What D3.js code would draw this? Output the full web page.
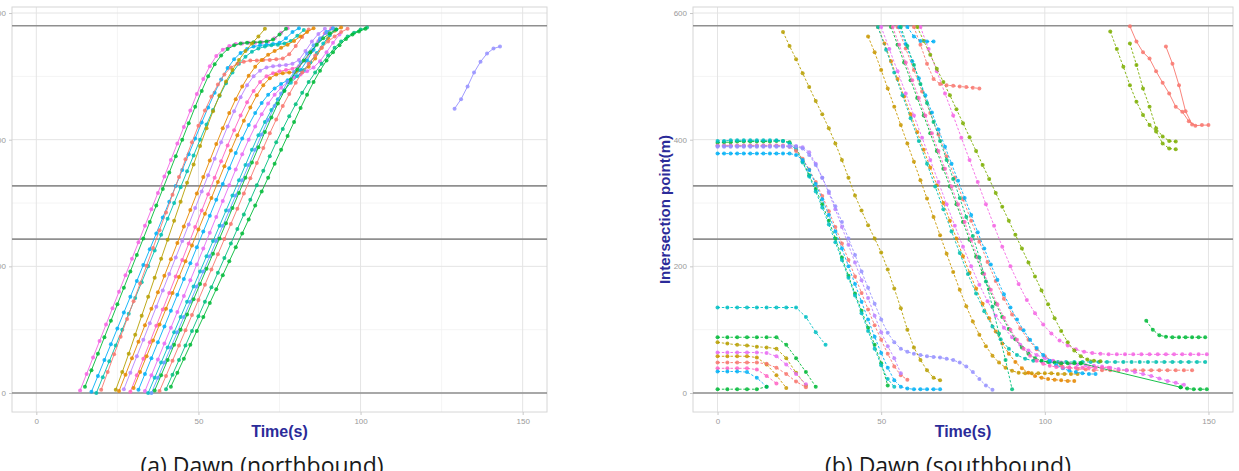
<!DOCTYPE html>
<html lang="en">
<head>
  <meta charset="UTF-8">
  <title>Dawn trajectories</title>
  <style>
    body { margin: 0; background: #fff; }
    svg { display: block; }
  </style>
</head>
<body>
  <div id="container"></div>
  <script src="https://cdn.jsdelivr.net/npm/d3@7"></script>
  <script>
    const xTicks = [0, 50, 100, 150];
    const xMinor = [25, 75, 125];
    const yTicks = [0, 200, 400, 600];
    const yMinor = [100, 300, 500];
    const stopLines = [0, 243, 327, 580];
    const captions = ['(a) Dawn (northbound)', '(b) Dawn (southbound)'];

    // northbound: start time (s), one sample every 2 s
    const nbStart = [13.5, 15, 17, 18.5, 20, 24.5, 25.5, 27, 29, 30, 31.5, 33.5, 34.5, 35.5, 36.5, 38, 40, 41.5, 129];
    const nbColor = ['#F564E3', '#00BA38', '#00B0F6', '#00C0AF', '#F8766D', '#B79F00', '#E58700', '#B983FF', '#FF61C3', '#E58700',
      '#00B0F6', '#E76BF3', '#00BFC4', '#619CFF', '#00BA38', '#F8766D', '#00BF7D', '#00BA38', '#9590FF'];
    const nbPos = [
      [4, 30, 56, 82, 108, 134, 160, 186, 212, 238, 264, 290, 316, 342, 368, 394, 420, 446, 472, 496, 516, 532, 542, 548, 551, 552, 553, 553, 554, 555, 560, 569, 576],
      [10, 36, 62, 88, 114, 140, 166, 192, 218, 244, 270, 296, 322, 348, 374, 400, 426, 452, 477, 500, 519, 533, 543, 549, 552, 553, 554, 554, 555, 558, 566, 575],
      [2, 27, 52, 77, 102, 127, 152, 177, 202, 227, 252, 277, 302, 327, 352, 377, 402, 427, 451, 474, 495, 513, 527, 537, 543, 547, 549, 550, 551, 553, 560, 570, 576],
      [0, 25, 50, 75, 100, 125, 150, 175, 200, 225, 250, 275, 300, 325, 350, 375, 400, 424, 447, 469, 489, 506, 520, 531, 539, 544, 547, 549, 550, 552, 556, 564, 573],
      [5, 33, 61, 89, 117, 145, 173, 201, 229, 257, 285, 313, 341, 369, 396, 422, 446, 468, 487, 503, 514, 520, 523, 525, 525, 526, 526, 527, 528, 535, 548, 562, 574],
      [5, 33, 62, 92, 122, 152, 182, 212, 242, 272, 302, 332, 361, 390, 418, 445, 470, 492, 510, 526, 540, 552, 563, 575],
      [3, 29, 55, 81, 107, 133, 159, 185, 211, 237, 263, 289, 315, 341, 367, 393, 418, 442, 464, 484, 501, 515, 526, 534, 540, 545, 550, 556, 563, 570, 576],
      [6, 32, 58, 84, 110, 136, 162, 188, 214, 240, 266, 292, 318, 344, 370, 396, 421, 445, 467, 486, 500, 509, 514, 516, 517, 518, 520, 526, 540, 555, 567, 575],
      [2, 28, 54, 80, 106, 132, 158, 184, 210, 236, 262, 288, 314, 340, 366, 391, 415, 438, 459, 477, 491, 500, 505, 508, 510, 512, 516, 525, 540, 556, 568, 576],
      [8, 33, 58, 83, 108, 133, 158, 183, 208, 233, 258, 283, 308, 333, 358, 383, 407, 430, 451, 470, 486, 497, 503, 505, 506, 507, 509, 515, 528, 545, 560, 572, 577],
      [5, 30, 55, 80, 105, 130, 155, 180, 205, 230, 255, 280, 305, 330, 355, 379, 402, 423, 442, 458, 471, 481, 488, 494, 500, 510, 525, 542, 558, 570, 576],
      [3, 28, 53, 78, 103, 128, 153, 178, 203, 228, 253, 278, 303, 328, 353, 377, 400, 421, 440, 457, 471, 482, 491, 498, 503, 508, 514, 524, 538, 553, 566],
      [0, 24, 48, 72, 96, 120, 144, 168, 192, 216, 240, 264, 288, 312, 336, 360, 384, 407, 428, 447, 464, 478, 490, 500, 510, 522, 537, 552, 565, 574],
      [0, 24, 48, 72, 96, 120, 144, 168, 192, 216, 240, 264, 288, 312, 336, 360, 384, 408, 431, 453, 473, 491, 507, 522, 536, 549, 560, 569, 575],
      [4, 28, 52, 76, 100, 124, 148, 172, 196, 220, 244, 268, 292, 316, 340, 364, 388, 412, 435, 457, 477, 495, 511, 525, 538, 550, 560, 568, 574],
      [3, 27, 51, 75, 99, 123, 147, 171, 195, 219, 243, 267, 291, 315, 339, 363, 387, 410, 432, 453, 472, 490, 506, 520, 533, 545, 555, 563, 570, 575],
      [6, 29, 52, 75, 98, 121, 144, 167, 190, 213, 236, 259, 282, 305, 328, 351, 374, 396, 417, 437, 456, 474, 491, 506, 520, 533, 545, 555, 563, 569, 574, 577],
      [10, 32, 54, 76, 98, 120, 142, 164, 186, 208, 230, 252, 274, 296, 318, 340, 362, 384, 406, 428, 450, 471, 491, 509, 525, 538, 549, 559, 566, 571, 575],
      [449, 464, 484, 506, 523, 536, 544, 547]
    ];

    // southbound: start time (s), sample interval (s), colour, dashed flag, positions
    const sbStart = [0, 0, 0, 0, 0, 0, 20,
      0, 0, 0, 0, 0, 0, 0, 0, 0,
      46, 49, 49, 62, 55, 50, 53, 111, 141.5, 55.5, 61, 53.5, 56, 60, 58,
      120, 126, 126, 137, 131];
    const sbStep = [2, 2, 2, 2, 2, 2, 2,
      3, 3, 3, 3, 3, 3, 3, 3, 3,
      2, 2, 2.5, 2.5, 2.5, 2.5, 2, 30.5, 2, 2, 2, 2, 2, 2, 2,
      2, 2, 2, 2, 2];
    const sbColor = ['#00BA38', '#00BFC4', '#F8766D', '#B983FF', '#9590FF', '#00B0F6', '#B79F00',
      '#00BFC4', '#00BA38', '#B79F00', '#E76BF3', '#C99800', '#F8766D', '#FF61C3', '#00B0F6', '#00BA38',
      '#C99800', '#E58700', '#00C0AF', '#F564E3', '#F8766D', '#E76BF3', '#00BA38', '#00BA38', '#00BA38', '#00B0F6', '#7CAE00', '#FF61C3', '#00BF7D', '#F8766D', '#00B0F6',
      '#7CAE00', '#7CAE00', '#F8766D', '#F8766D', '#00BA38'];
    const sbDash = [1, 1, 1, 1, 1, 1, 1,
      1, 1, 1, 1, 1, 1, 1, 1, 1,
      1, 1, 1, 1, 1, 1, 1, 0, 1, 1, 1, 1, 1, 1, 1,
      1, 1, 0, 0, 1];
    const sbPos = [
      [395, 396, 396, 397, 397, 397, 397, 397, 397, 398, 398, 396, 388, 366, 344, 322, 298, 272, 244, 214, 185, 157, 130, 103, 76, 47, 12],
      [398, 398, 399, 399, 399, 399, 399, 399, 399, 399, 398, 394, 384, 364, 342, 318, 293, 266, 238, 210, 182, 154, 126, 98, 70, 44, 22, 10],
      [391, 391, 391, 391, 391, 391, 391, 391, 391, 391, 391, 389, 382, 370, 353, 333, 311, 287, 262, 236, 210, 184, 158, 132, 107, 84, 62, 42, 28, 21],
      [390, 390, 390, 390, 390, 390, 390, 390, 390, 390, 390, 390, 390, 388, 380, 362, 340, 316, 290, 262, 234, 206, 178, 150, 122, 96, 74, 55, 31],
      [389, 389, 389, 389, 389, 389, 389, 389, 389, 389, 389, 389, 389, 386, 376, 360, 340, 318, 295, 270, 244, 218, 192, 166, 141, 116, 95, 80, 70, 65, 62, 60, 58, 57, 56, 54, 52, 48, 42, 33, 22, 12, 5],
      [378, 378, 378, 378, 378, 378, 378, 378, 378, 378, 378, 378, 376, 368, 352, 330, 306, 281, 255, 228, 200, 172, 144, 116, 89, 63, 40, 20, 10, 7, 6, 6, 6, 6, 6],
      [570, 548, 527, 505, 483, 461, 440, 418, 394, 368, 340, 312, 288, 265, 244, 222, 195, 165, 134, 100, 72, 52, 36, 24, 20],
      [135, 135, 135, 135, 135, 135, 135, 135, 135, 120, 96, 76],
      [88, 88, 88, 88, 88, 88, 88, 76, 55, 33, 10],
      [80, 78, 76, 75, 73, 72, 70, 55, 32, 12],
      [64, 64, 64, 64, 64, 63, 58, 45, 30, 14],
      [58, 58, 58, 58, 56, 45, 28, 8],
      [48, 48, 48, 48, 48, 46, 40, 30, 18, 9],
      [39, 39, 39, 39, 37, 27, 15],
      [34, 34, 34, 33, 24, 10],
      [6, 6, 6, 6, 6, 10],
      [563, 538, 510, 481, 452, 423, 394, 365, 336, 307, 278, 249, 220, 191, 163, 137, 113, 92, 74, 59, 48, 40, 35, 32, 31, 31, 31, 31, 31, 30, 30, 30, 30],
      [578, 552, 524, 496, 468, 440, 412, 384, 356, 328, 300, 272, 244, 216, 190, 165, 141, 118, 97, 78, 62, 49, 39, 32, 27, 24, 22, 21, 20, 19, 19],
      [578, 542, 506, 470, 434, 398, 362, 326, 290, 255, 221, 188, 157, 129, 105, 85, 70, 60, 54, 51, 50,
        49, 49, 49, 49, 49, 49, 49, 49, 49, 49, 49, 49, 49, 49, 49, 49, 49, 49, 49, 49],
      [578, 543, 508, 473, 438, 403, 368, 333, 298, 264, 231, 200, 172, 147, 126, 108, 94, 83, 75, 69, 65, 63, 62,
        61, 61, 61, 61, 61, 61, 61, 61, 61, 61, 61, 61, 61],
      [578, 544, 510, 476, 442, 408, 374, 340, 306, 272, 239, 207, 177, 149, 124, 102, 84, 69, 58, 50, 44, 40, 38, 37,
        36, 36, 36, 36, 36, 36, 36, 36, 36, 36, 36, 36, 36],
      [578, 543, 508, 473, 438, 403, 368, 333, 298, 264, 231, 200, 171, 145, 122, 103, 88, 76, 67, 60, 55, 51, 48, 46, 45, 44, 43, 42, 40, 38, 36, 33, 30, 27, 23, 19, 16, 13],
      [578, 550, 522, 494, 466, 438, 410, 382, 354, 326, 298, 270, 242, 215, 189, 164, 141, 120, 101, 85, 72, 62, 55, 51, 49, 48, 47, 47, 47, 47],
      [47, 9],
      [9, 7, 6, 6, 6],
      [578, 551, 524, 497, 470, 443, 416, 389, 362, 335, 308, 281, 254, 228, 203, 179, 156, 135, 116, 99, 84, 71, 60, 51, 44, 39, 35, 33, 31, 30, 30],
      [578, 556, 534, 512, 491, 470, 448, 426, 404, 382, 360, 338, 316, 294, 272, 250, 228, 206, 184, 162, 140, 118, 98, 80, 67, 58, 53, 51, 50],
      [578, 550, 522, 494, 466, 438, 410, 382, 354, 326, 298, 270, 242, 214, 188, 163, 140, 119, 100, 84, 70, 59, 51, 46, 43, 41, 40, 40, 40, 40, 40, 40, 40, 40],
      [578, 548, 518, 488, 458, 428, 398, 368, 338, 308, 278, 248, 214, 176, 136, 94, 52, 6],
      [578, 550, 520, 496, 488, 486, 485, 484, 483, 482, 481],
      [578, 563, 556, 555, 555],
      [571, 543, 515, 486, 460, 439, 423, 413, 394, 386, 385],
      [552, 518, 481, 452, 418, 405, 398, 397],
      [579, 555, 538, 528, 508, 490, 473, 452, 444, 429, 422, 423, 423],
      [547, 520, 486, 445, 424],
      [114, 100, 91, 89, 88, 88, 88, 88, 88, 88]
    ];

    const size = { w: 1239, h: 471 };
    const plotTop = 7;
    const plotBottom = 412;
    const titleColor = '#2b2b99';

    const svg = d3.select('#container')
      .append('svg')
      .attr('width', size.w)
      .attr('height', size.h);

    function makeSeries(start, step, pos, color, dash) {
      return pos.map((vals, i) => ({
        color: color[i],
        dash: dash ? dash[i] : 0,
        pts: vals.map((v, j) => [start[i] + j * step[i], v])
      }));
    }

    const nbSeries = makeSeries(nbStart, nbStart.map(() => 2), nbPos, nbColor, null);
    const sbSeries = makeSeries(sbStart, sbStep, sbPos, sbColor, sbDash);

    function drawPanel(p) {
      const x = d3.scaleLinear().domain([-7.5, 157.5]).range([p.x0, p.x1]);
      const y = d3.scaleLinear().domain([-30, 609.5]).range([plotBottom, plotTop]);
      const g = svg.append('g');

      // grid
      g.selectAll('.vminor').data(xMinor).enter().append('line')
        .attr('x1', d => x(d)).attr('x2', d => x(d))
        .attr('y1', plotTop).attr('y2', plotBottom)
        .style('stroke', '#f1f1f1').style('stroke-width', 0.8);
      g.selectAll('.hminor').data(yMinor).enter().append('line')
        .attr('x1', p.x0).attr('x2', p.x1)
        .attr('y1', d => y(d)).attr('y2', d => y(d))
        .style('stroke', '#f1f1f1').style('stroke-width', 0.8);
      g.selectAll('.vmajor').data(xTicks).enter().append('line')
        .attr('x1', d => x(d)).attr('x2', d => x(d))
        .attr('y1', plotTop).attr('y2', plotBottom)
        .style('stroke', '#e4e4e4').style('stroke-width', 1);
      g.selectAll('.hmajor').data(yTicks).enter().append('line')
        .attr('x1', p.x0).attr('x2', p.x1)
        .attr('y1', d => y(d)).attr('y2', d => y(d))
        .style('stroke', '#e4e4e4').style('stroke-width', 1);

      g.append('rect')
        .attr('x', p.x0).attr('y', plotTop)
        .attr('width', p.x1 - p.x0).attr('height', plotBottom - plotTop)
        .style('fill', 'none').style('stroke', '#d6d6d6').style('stroke-width', 1);

      // reference lines
      g.selectAll('.stop').data(stopLines).enter().append('line')
        .attr('x1', p.x0).attr('x2', p.x1)
        .attr('y1', d => y(d)).attr('y2', d => y(d))
        .style('stroke', '#8f8f8f').style('stroke-width', 1.6);

      // trajectories
      const line = d3.line().x(d => x(d[0])).y(d => y(d[1]));
      const traj = g.selectAll('.traj').data(p.series).enter().append('g');
      traj.append('path')
        .attr('d', d => line(d.pts))
        .style('fill', 'none')
        .style('stroke', d => d.color)
        .style('stroke-width', 0.9)
        .style('stroke-dasharray', d => d.dash ? '2.5,1.8' : null);
      traj.selectAll('circle').data(d => d.pts.map(pt => ({ pt: pt, color: d.color }))).enter().append('circle')
        .attr('cx', d => x(d.pt[0]))
        .attr('cy', d => y(d.pt[1]))
        .attr('r', 2)
        .style('fill', d => d.color)
        .style('fill-opacity', 0.85);

      // axes
      const xAxis = g.append('g')
        .attr('transform', 'translate(0,' + plotBottom + ')')
        .call(d3.axisBottom(x).tickValues(xTicks).tickSize(3).tickPadding(3));
      const yAxis = g.append('g')
        .attr('transform', 'translate(' + p.x0 + ',0)')
        .call(d3.axisLeft(y).tickValues(yTicks).tickSize(3).tickPadding(3));
      [xAxis, yAxis].forEach(a => {
        a.select('.domain').remove();
        a.selectAll('line').style('stroke', '#c8c8c8');
        a.selectAll('text')
          .style('fill', '#9a9a9a')
          .style('font-family', 'Liberation Sans, Arial, sans-serif')
          .style('font-size', '8px');
      });

      g.append('text')
        .attr('x', (p.x0 + p.x1) / 2)
        .attr('y', 437)
        .attr('text-anchor', 'middle')
        .style('font-family', 'Liberation Sans, Arial, sans-serif')
        .style('font-weight', 'bold')
        .style('font-size', '16px')
        .style('fill', titleColor)
        .text('Time(s)');

      if (p.yTitle) {
        g.append('text')
          .attr('transform', 'translate(' + p.yTitleX + ',' + ((plotTop + plotBottom) / 2) + ') rotate(-90)')
          .attr('text-anchor', 'middle')
          .style('font-family', 'Liberation Sans, Arial, sans-serif')
          .style('font-weight', 'bold')
          .style('font-size', '15px')
          .style('fill', titleColor)
          .text(p.yTitle);
      }

      svg.append('text')
        .attr('x', p.captionX)
        .attr('y', 474)
        .attr('text-anchor', 'middle')
        .style('font-family', 'Open Sans, Noto Sans, sans-serif')
        .style('font-size', '23px')
        .style('fill', '#1a1a1a')
        .text(p.caption);
    }

    drawPanel({ x0: 12, x1: 547, series: nbSeries, caption: captions[0], captionX: 262, yTitle: null });
    drawPanel({ x0: 693, x1: 1233, series: sbSeries, caption: captions[1], captionX: 948, yTitle: 'Intersection point(m)', yTitleX: 670 });
  </script>
</body>
</html>
